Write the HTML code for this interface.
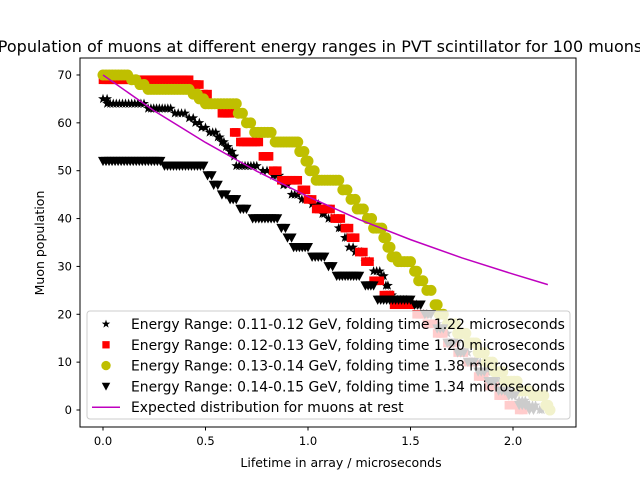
<!DOCTYPE html>
<html><head><meta charset="utf-8"><style>body{margin:0;background:#fff}svg{display:block;font-family:"DejaVu Sans","Liberation Sans",sans-serif}</style></head>
<body>
<svg id="chart" width="640" height="480" viewBox="0 0 640 480" xmlns="http://www.w3.org/2000/svg">
<text x="320" y="52" text-anchor="middle" font-size="16">Population of muons at different energy ranges in PVT scintillator for 100 muons</text>
<g id="plot"></g>
<rect x="80" y="58" width="496" height="369" fill="none" stroke="#000" stroke-width="1"/>
<g id="axes"></g>
<text x="341" y="467" text-anchor="middle" font-size="12.5">Lifetime in array / microseconds</text>
<text transform="translate(44,243) rotate(-90)" text-anchor="middle" font-size="12.5">Muon population</text>
<g id="legend"></g>
</svg>
<script>
// Runs: count held constant from runStart to runEnd (microseconds)
const starCounts=[65,64,63,62,61,60,59,58,57,56,55,54,53,51,50,49,47,45,44,43,41,40,38,36,34,33,31,29,28,26,24,23,22,20,18,16,14,12,10,8,6,4,2,1,0];
const starStart=[0,0.02,0.22,0.35,0.42,0.45,0.48,0.52,0.56,0.58,0.6,0.62,0.64,0.65,0.78,0.83,0.88,0.92,0.97,1.02,1.07,1.1,1.15,1.18,1.2,1.23,1.28,1.32,1.36,1.38,1.4,1.42,1.5,1.55,1.6,1.65,1.7,1.75,1.8,1.86,1.92,1.97,2.03,2.08,2.13];
const starEnd=[0.02,0.2,0.33,0.4,0.44,0.47,0.5,0.55,0.57,0.59,0.61,0.63,0.64,0.75,0.8,0.86,0.9,0.95,1.0,1.05,1.08,1.13,1.16,1.19,1.22,1.26,1.3,1.35,1.37,1.39,1.41,1.48,1.53,1.58,1.63,1.68,1.73,1.78,1.84,1.9,1.95,2.0,2.06,2.11,2.14];

const sqCounts=[69,68,66,64,62,58,56,53,50,48,46,44,42,40,38,36,33,31,27,24,22,20,18,16,14,12,10,7,5,3,1,0];
const sqStart=[0,0.44,0.49,0.53,0.58,0.64,0.67,0.78,0.83,0.87,0.97,1.0,1.04,1.13,1.18,1.21,1.25,1.28,1.32,1.37,1.42,1.53,1.58,1.63,1.68,1.73,1.78,1.83,1.88,1.93,1.98,2.03];
const sqEnd=[0.42,0.47,0.51,0.56,0.62,0.65,0.76,0.81,0.85,0.95,0.99,1.02,1.11,1.16,1.2,1.23,1.27,1.3,1.35,1.4,1.5,1.56,1.61,1.66,1.71,1.76,1.81,1.86,1.91,1.96,2.01,2.05];

const circCounts=[70,69,68,67,66,65,64,62,60,58,56,54,52,50,48,46,44,42,40,38,36,34,32,31,29,27,25,22,20,18,16,14,12,10,8,6,4,3,1,0];
const circStart=[0,0.14,0.18,0.22,0.44,0.47,0.5,0.66,0.7,0.74,0.84,0.96,0.99,1.01,1.04,1.17,1.21,1.24,1.29,1.32,1.37,1.39,1.41,1.44,1.52,1.54,1.58,1.62,1.64,1.68,1.73,1.78,1.83,1.87,1.91,1.96,2.03,2.1,2.16,2.18];
const circEnd=[0.12,0.16,0.2,0.42,0.46,0.49,0.65,0.68,0.72,0.82,0.95,0.98,1.0,1.03,1.15,1.19,1.23,1.27,1.31,1.36,1.38,1.4,1.43,1.5,1.53,1.56,1.6,1.63,1.66,1.72,1.77,1.82,1.86,1.9,1.95,2.02,2.08,2.15,2.17,2.18];

const triCounts=[52,51,49,47,45,44,42,40,38,36,34,32,30,28,26,23,22,20,17,14,12,10,8,6,4,3,1,0];
const triStart=[0,0.3,0.51,0.54,0.58,0.62,0.67,0.73,0.87,0.9,0.93,1.02,1.1,1.14,1.28,1.34,1.52,1.57,1.63,1.68,1.73,1.78,1.83,1.88,1.93,1.98,2.03,2.08];
const triEnd=[0.28,0.49,0.53,0.56,0.6,0.65,0.7,0.85,0.89,0.92,1.0,1.08,1.12,1.25,1.32,1.5,1.55,1.6,1.66,1.71,1.76,1.81,1.86,1.91,1.96,2.01,2.06,2.1];

const expTimes=[0,0.25,0.5,0.75,1.0,1.25,1.5,1.75,2.0,2.17];
const expValues=[70,62.5,55.9,49.9,44.6,39.8,35.6,31.8,28.4,26.2];

const xTicks=[0,0.5,1.0,1.5,2.0];
const xTickLabels=["0.0","0.5","1.0","1.5","2.0"];
const yTicks=[0,10,20,30,40,50,60,70];
const legendLabels=["Energy Range: 0.11-0.12 GeV, folding time 1.22 microseconds","Energy Range: 0.12-0.13 GeV, folding time 1.20 microseconds","Energy Range: 0.13-0.14 GeV, folding time 1.38 microseconds","Energy Range: 0.14-0.15 GeV, folding time 1.34 microseconds","Expected distribution for muons at rest"];

const NS="http://www.w3.org/2000/svg";
const xS=t=>103+205*t;
const yS=n=>410-4.786*n;
function mk(tag,attrs,parent){const e=document.createElementNS(NS,tag);for(const k in attrs)e.setAttribute(k,attrs[k]);parent.appendChild(e);return e;}
function marker(kind,cx,cy,parent,s){
  s=s||1;let e;
  if(kind==="star"){let p=[];for(let i=0;i<10;i++){const r=(i%2?2.1:5.2)*s;const a=-Math.PI/2+i*Math.PI/5;p.push((cx+r*Math.cos(a)).toFixed(1)+","+(cy+r*Math.sin(a)).toFixed(1));}e=mk("polygon",{points:p.join(" "),fill:"#000"},parent);}
  else if(kind==="sq"){const h=4.3*s;e=mk("rect",{x:cx-h,y:cy-h,width:2*h,height:2*h,fill:"#ff0000"},parent);}
  else if(kind==="circ"){e=mk("circle",{cx:cx,cy:cy,r:5.5*s,fill:"#bfbf00"},parent);}
  else {const h=5*s;e=mk("polygon",{points:`${cx-h},${cy-h*0.85} ${cx+h},${cy-h*0.85} ${cx},${cy+h}`,fill:"#000"},parent);}
  return e;
}
const plot=document.getElementById("plot");
const series=[["star",starCounts,starStart,starEnd],["sq",sqCounts,sqStart,sqEnd],["circ",circCounts,circStart,circEnd],["tri",triCounts,triStart,triEnd]];
const sNames=["series-0.11-0.12","series-0.12-0.13","series-0.13-0.14","series-0.14-0.15"];
series.forEach((s,si)=>{
  const g=mk("g",{},plot);
  
  
  const [kind,c,a,b]=s;
  for(let i=0;i<c.length;i++){
    const x0=xS(a[i]),x1=xS(b[i]),y=yS(c[i]);
    const n=Math.max(1,Math.round((x1-x0)/3));
    for(let j=0;j<=n;j++){
      const m=marker(kind,x0+(x1-x0)*j/n,y,g);
      
      
    }
  }
});
const line=mk("polyline",{points:expTimes.map((t,i)=>xS(t)+","+yS(expValues[i])).join(" "),fill:"none",stroke:"#bf00bf","stroke-width":1.5},plot);



const axes=document.getElementById("axes");
xTicks.forEach((t,i)=>{
  const l=mk("line",{x1:xS(t),x2:xS(t),y1:427,y2:430.5,stroke:"#000"},axes);
  
  
  const tx=mk("text",{x:xS(t),y:445,"text-anchor":"middle","font-size":"11.5"},axes);
  tx.textContent=xTickLabels[i];
  
  
});
yTicks.forEach(v=>{
  const l=mk("line",{x1:76.5,x2:80,y1:yS(v),y2:yS(v),stroke:"#000"},axes);
  
  
  const tx=mk("text",{x:72,y:yS(v)+4,"text-anchor":"end","font-size":"11.5"},axes);
  tx.textContent=String(v);
  
  
});

const lg=document.getElementById("legend");


mk("rect",{x:87,y:311,width:483,height:108,rx:3,fill:"#fff","fill-opacity":0.8,stroke:"#ccc"},lg);
const kinds=["star","sq","circ","tri","line"];
legendLabels.forEach((lab,i)=>{
  const y=324+i*20.8;
  const g=mk("g",{},lg);
  
  
  if(kinds[i]==="line")mk("line",{x1:92,x2:120,y1:y,y2:y,stroke:"#bf00bf","stroke-width":1.5},g);
  else marker(kinds[i],106,y,g,0.85);
  const t=mk("text",{x:131,y:y+5,"font-size":"13.9"},g);
  t.textContent=lab;
});
</script>
</body></html>
